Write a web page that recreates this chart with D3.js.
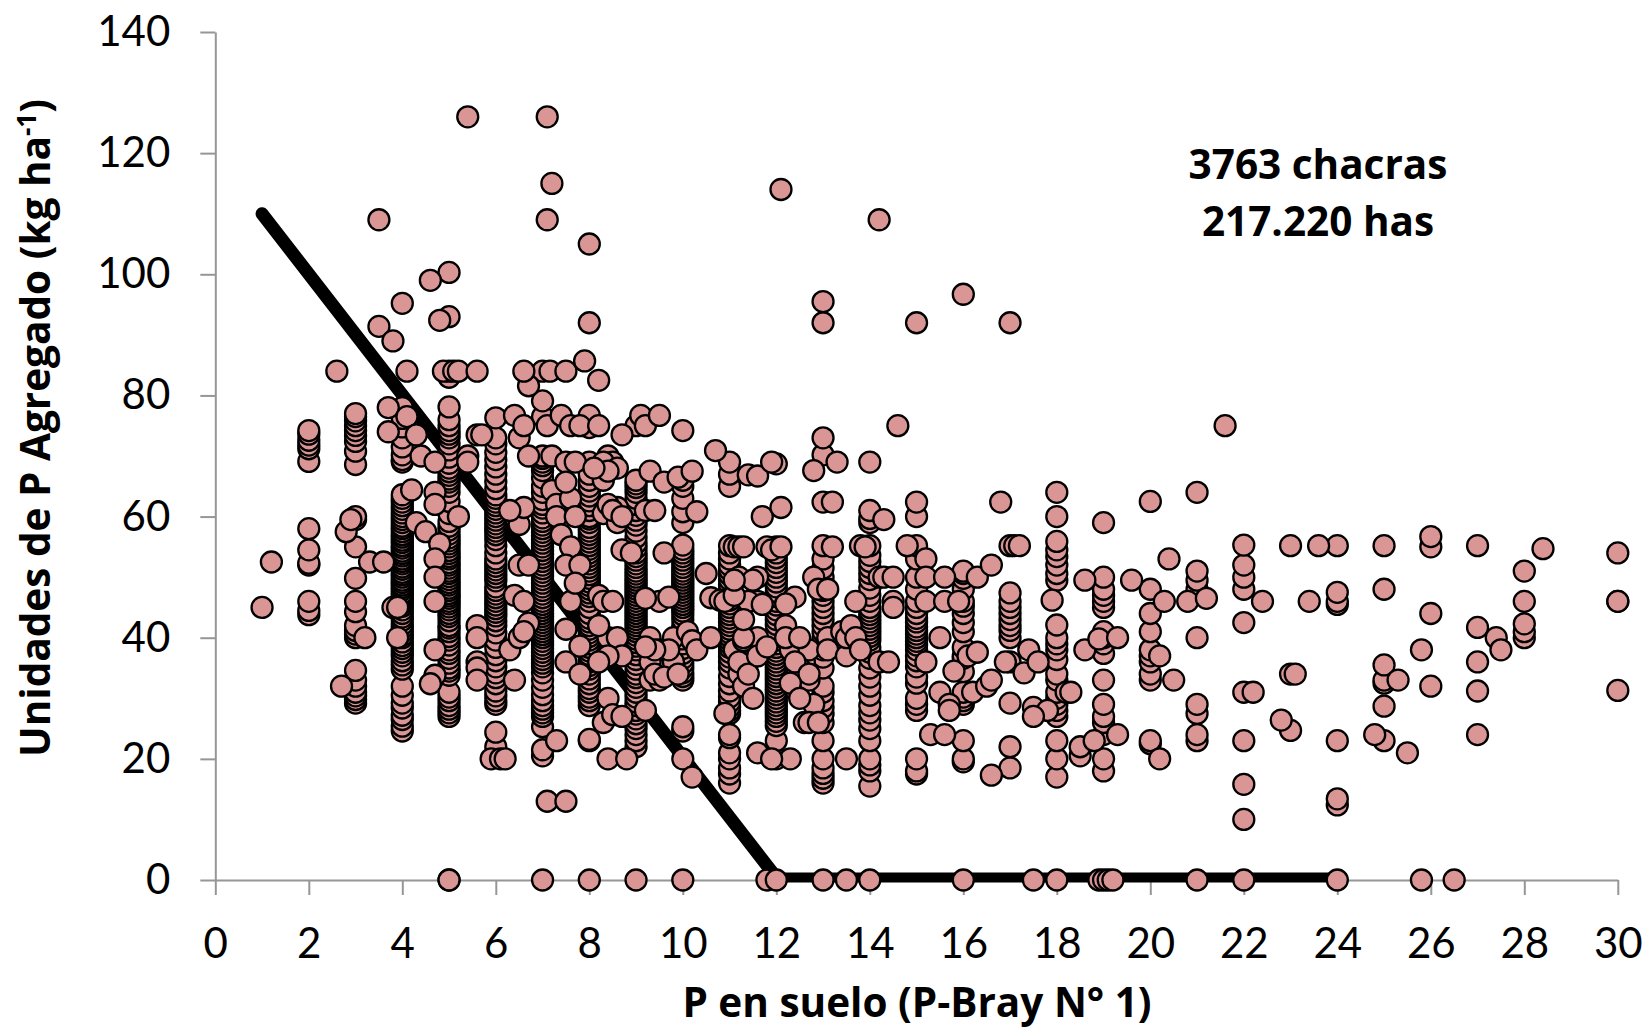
<!DOCTYPE html>
<html>
<head>
<meta charset="utf-8">
<script src="https://cdn.jsdelivr.net/npm/d3@7"></script>
<style>
body { margin: 0; background: #fff; }
text { fill: #000; }
</style>
</head>
<body>
<div id="zona"></div>
<script>
var largeur = 1647;
var hauteur = 1031;

// ticks
var ticksX = [0, 2, 4, 6, 8, 10, 12, 14, 16, 18, 20, 22, 24, 26, 28, 30];
var ticksY = [0, 20, 40, 60, 80, 100, 120, 140];

// linea de respuesta: tramo diagonal y tramo plano
var rectaX = [1, 12];
var rectaY = [110, 0.4];
var planoX = [12, 24];
var planoY = [0.4, 0.4];

// columnas de P entero (x) y sus valores (y)
var columnasX = [2, 3, 4, 5, 6, 7, 8, 9, 10, 11, 12, 13, 14, 15, 16, 17, 18, 19, 20, 21, 22, 23, 24, 25, 26, 27, 28, 30];
var col2 = [43.8, 44.5, 46, 52, 52.3, 54.5, 58, 69.1, 71.2, 71.8, 72.6, 73.6, 74.2];
var col3 = [29.2, 29.8, 30.4, 31, 32, 33, 34.6, 40, 40.6, 41.2, 42, 44.3, 46, 49.8, 55, 59.5, 60, 68.6, 70.8, 72.4, 73.4, 74.2, 75, 75.8, 76.5, 77];
var col4 = [24.6, 25.4, 26.5, 27.2, 28.4, 29.2, 30.5, 32, 34.8, 35.5, 36.2, 37, 37.6, 38.2, 38.7, 39.3, 40, 40.4, 41, 41.6, 42.2, 42.9, 43.4, 44, 44.6, 45.2, 45.7, 46.2, 46.6, 47, 47.4, 47.9, 48.3, 48.7, 49.1, 49.5, 50, 50.4, 50.8, 51.3, 51.7, 52.2, 52.6, 53, 53.5, 53.9, 54.3, 54.8, 55.2, 55.7, 56.1, 56.6, 57, 57.5, 58, 58.4, 59, 59.5, 60, 60.6, 61.2, 61.8, 62.4, 63, 63.6, 69, 69.4, 70.2, 71.5, 73, 74.8, 76.2, 78, 95.2];
var col5 = [27, 27.6, 28.2, 28.8, 29.6, 30.2, 31, 33.8, 34.5, 35, 35.8, 36.6, 37.4, 38, 38.8, 39.6, 40.2, 41, 41.6, 42, 42.8, 43.5, 44, 44.6, 45.1, 45.6, 46, 46.5, 46.9, 47.3, 47.8, 48.2, 48.7, 49.1, 49.6, 50.1, 50.6, 51, 51.5, 52, 52.4, 53, 53.4, 53.9, 54.4, 55, 55.5, 56, 56.5, 57.1, 57.8, 58.4, 59.2, 60.5, 62.5, 64, 65, 65.7, 66.2, 66.8, 67.4, 68, 68.8, 69.8, 71, 72, 73, 73.6, 74.2, 75, 76, 78.1, 83, 84, 93, 100.3];
var col6 = [20.4, 22, 24.4, 29, 29.6, 30.4, 31.2, 32.4, 33.4, 34.2, 35.2, 36.2, 37.2, 38.4, 39.6, 40.8, 42, 42.8, 43.6, 44.2, 44.8, 45.4, 46, 46.6, 47.2, 47.8, 48.4, 49.4, 50, 50.6, 51.2, 51.8, 52.4, 53, 54, 55.2, 56.2, 57, 57.6, 58.2, 58.8, 59.4, 60, 60.6, 61.2, 61.8, 62.4, 63, 63.6, 64.6, 65.8, 67, 68.2, 69.4, 70.6, 72, 73, 76.3];
var col7 = [20.5, 21.5, 25.3, 27, 27.6, 28.2, 28.8, 29.6, 30.6, 31.8, 33, 34.2, 35.2, 35.8, 36.4, 37, 37.6, 38.2, 38.8, 39.4, 40, 40.5, 41, 41.5, 42, 42.5, 43, 43.5, 44, 44.5, 45, 45.5, 46, 46.6, 47.2, 47.8, 48.4, 49, 49.6, 50.2, 50.8, 51.4, 52, 52.6, 53.2, 53.8, 54.4, 55, 55.6, 56.2, 56.8, 57.4, 58, 58.6, 59.2, 59.8, 60.6, 61.4, 62, 62.8, 64, 65, 66.4, 67.6, 68.4, 69, 69.6, 70, 76.5, 79.1, 84];
var col8 = [23, 23.2, 28.8, 29.6, 30.2, 31, 31.6, 32.4, 33.2, 34, 34.8, 35.4, 36, 36.6, 37.2, 37.8, 38.4, 39, 39.6, 40.2, 40.8, 41.4, 42, 42.6, 43.2, 44, 45, 46, 46.8, 47.4, 48, 48.6, 49.2, 49.8, 50.4, 51, 51.6, 52.2, 52.8, 53.4, 54, 54.6, 55.2, 55.8, 56.4, 57, 57.6, 58.2, 59, 59.6, 60, 61, 61.8, 62.6, 63.4, 64.2, 65, 66, 67, 69, 74.7, 76.7, 92, 105];
var col9 = [22, 23, 24, 25, 25.8, 26.6, 27.4, 28, 28.8, 29.4, 30.2, 31, 31.8, 32.6, 33.4, 34, 34.8, 35.6, 36.4, 37.2, 38, 38.6, 39.2, 39.8, 40.4, 41, 41.5, 42, 42.5, 43, 43.5, 44, 44.5, 45, 45.5, 46, 46.5, 47, 47.5, 48, 48.5, 49, 49.5, 50, 50.5, 51, 51.6, 52.2, 52.8, 53.4, 54, 54.8, 55.6, 56.6, 57.6, 58.6, 59.4, 60.2, 61, 62, 63, 64, 64.8, 65.4, 66, 75];
var col10 = [20, 24.6, 25.3, 33, 33.6, 34.2, 35, 35.8, 36.6, 37.4, 38.2, 39, 39.8, 40.6, 42, 43, 43.8, 44.4, 45, 45.5, 46, 46.5, 47, 47.5, 48, 48.5, 49, 49.5, 50, 50.5, 51, 51.6, 52.2, 52.8, 53.4, 54, 54.6, 55.3, 59, 60.8, 63, 65, 66, 74.2];
var col11 = [16, 17.5, 18.5, 20, 21, 23.5, 24, 27.5, 28, 28.6, 29.4, 30.2, 31.2, 32.4, 33.6, 35, 36, 36.8, 37.6, 38.4, 39, 39.6, 40.2, 40.8, 41.4, 42, 42.6, 43.2, 43.8, 44.4, 45, 45.6, 46.2, 47, 48, 48.8, 49.6, 50.4, 51.2, 52, 53, 54, 55.2, 65, 67, 69];
var col12 = [20, 23, 25.5, 26.2, 27, 27.6, 28.2, 28.8, 29.4, 30, 30.6, 31.2, 31.8, 32.4, 33, 33.6, 34.2, 34.8, 35.4, 36, 36.6, 37.2, 37.8, 38.4, 39, 39.6, 40.2, 41, 42.2, 43, 43.8, 44.6, 45.4, 46, 46.8, 47.6, 48.4, 49.2, 50, 50.8, 51.6, 52.4, 53.2, 54, 55, 68.7];
var col13 = [16, 16.8, 17.6, 18.5, 20, 23, 26, 27.4, 28.5, 29.6, 31, 32, 35, 36.8, 38, 38.6, 40, 41, 42, 43, 44, 45, 46, 47, 47.8, 49, 50, 51.5, 53, 55.2, 62.4, 70.2, 73, 92, 95.5];
var col14 = [15.5, 18, 19, 20, 23, 25, 26.4, 27.6, 28.8, 30.5, 32, 33.5, 35, 36.6, 37.6, 38.4, 39.6, 40.2, 40.8, 41.4, 42, 42.6, 43.2, 43.8, 44.4, 45, 46, 47, 48.2, 49.6, 50.6, 51.6, 52.6, 53.6, 55.2, 59, 59.7, 61, 69];
var col15 = [17.5, 18, 20, 28, 29, 30, 32.5, 33.5, 35.2, 36.2, 37, 38, 38.8, 39.4, 40, 40.6, 41.2, 41.8, 42.6, 43.2, 44, 45, 46, 48, 50, 53, 55.2, 60, 62.4, 92];
var col16 = [19.5, 20, 23, 29, 29.6, 30.2, 31, 34.4, 36.6, 37, 38.4, 41, 42.5, 44, 45.2, 46, 48, 49.8, 50.6, 51, 96.7];
var col17 = [18.5, 22, 29.2, 36, 40, 41.2, 42, 43, 44, 45, 46, 47.4, 55.2, 92];
var col18 = [17, 20, 23, 27, 28, 29, 30, 31, 33, 34, 36.4, 38, 39, 40, 42.1, 49.5, 50.6, 52, 53.4, 54.5, 55.9, 60, 64];
var col19 = [18, 20, 24, 26, 27, 29, 33, 37.4, 39, 40, 41, 45, 46, 47, 48, 50, 59];
var col20 = [22.5, 23, 33, 34, 36, 37, 38, 41, 44, 48, 62.5];
var col21 = [23, 24, 27.5, 29, 40, 48, 49.5, 51, 64];
var col22 = [10, 15.8, 23, 31, 42.5, 48, 50, 52, 55.3];
var col23 = [24.7, 34, 55.2];
var col24 = [12.4, 13.4, 23, 45.5, 46, 47.5, 55.2];
var col25 = [23, 28.7, 32.5, 33, 35.5, 48, 55.2];
var col26 = [32, 44, 55, 56.7];
var col27 = [24, 31.2, 36, 41.7, 55.2];
var col28 = [40, 41, 42.3, 46, 51];
var col30 = [31.3, 46, 46, 54];
var valoresColumnas = [col2, col3, col4, col5, col6, col7, col8, col9, col10, col11, col12, col13, col14, col15, col16, col17, col18, col19, col20, col21, col22, col23, col24, col25, col26, col27, col28, col30];

// puntos sueltos [x, y]
var sueltos = [
  [1, 45], [1.2, 52.5], [2.6, 84], [2.7, 32], [2.8, 57.5], [2.9, 59.5], [3.2, 40], [3.3, 52.5], [3.5, 91.4], [3.5, 109],
  [3.6, 52.5], [3.7, 74], [3.7, 78], [3.8, 89], [3.8, 45], [3.9, 45], [3.9, 40], [4.1, 84], [4.1, 76.5], [4.2, 64.4],
  [4.3, 73.5], [4.4, 70], [4.3, 59], [4.5, 57.5], [4.6, 99], [4.7, 33.8], [4.6, 32.4], [4.7, 38], [4.7, 69], [4.7, 64],
  [4.7, 62], [4.8, 55.5], [4.7, 53], [4.7, 50], [4.7, 46], [4.8, 92.4], [4.88, 84], [5.1, 84], [5.2, 84], [5.6, 84],
  [5.2, 60], [5.4, 126], [5.4, 70], [5.4, 69], [5.6, 73.5], [5.7, 73.5], [5.6, 42], [5.6, 40], [5.6, 36], [5.6, 35],
  [5.6, 33], [5.9, 20], [6.1, 20], [6.2, 20], [6.3, 38], [6.4, 33], [6.5, 40], [6.7, 42.4], [6.6, 41], [6.4, 60],
  [6.5, 58.7], [6.6, 61.5], [6.7, 81.6], [6.6, 84], [6.4, 76.7], [6.5, 73], [6.6, 75], [6.7, 70], [6.3, 61], [6.5, 52],
  [6.7, 52], [6.4, 47], [6.6, 46], [7.16, 84], [7.5, 84], [7.1, 75], [7.4, 76.7], [7.6, 75], [7.8, 75], [7.2, 70],
  [7.5, 69], [7.7, 69], [7.2, 64.3], [7.1, 13], [7.5, 13], [7.3, 23], [7.5, 41.4], [7.5, 36], [7.8, 38.6], [7.8, 34],
  [7.1, 126], [7.2, 115], [7.1, 109], [7.3, 62], [7.6, 63],
  [7.5, 65.7], [7.3, 60], [7.4, 57], [7.6, 55], [7.5, 52], [7.7, 60], [7.8, 52], [7.6, 46], [7.7, 49], [7.9, 85.7],
  [8.2, 82.5], [8.2, 75], [8.4, 70], [8.5, 69], [8.2, 68], [8.3, 66], [8.7, 73.5], [9.1, 76.7], [9.2, 75], [9.5, 76.7],
  [8.3, 69], [8.6, 68], [8.4, 67.5], [8.6, 61.5], [8.1, 68], [8.3, 60.5], [8.6, 59],
  [9.3, 67.5], [9.6, 65.7], [9.9, 66.5], [10.2, 67.5], [8.4, 62], [8.5, 61], [8.7, 60], [8.2, 47], [8.3, 46], [8.5, 46],
  [8.4, 40], [8.6, 40], [8.4, 30], [8.3, 26], [8.5, 27.3], [8.7, 37], [8.4, 37], [8.2, 42], [8.4, 20], [8.8, 20],
  [8.7, 27], [8.2, 36], [8.7, 54.5], [8.9, 54], [9.2, 61], [9.4, 61], [9.5, 46], [9.2, 46.5], [9.6, 54], [9.7, 46.7],
  [9.3, 40], [9.3, 33], [9.5, 33], [9.6, 36], [9.5, 38], [9.8, 40], [9.8, 36], [9.7, 38], [9.3, 36], [9.2, 28],
  [9.4, 34], [9.4, 38], [9.6, 33.5], [9.9, 34], [9.2, 38.5], [10.1, 41], [10.2, 39.5], [10.3, 38], [10.2, 17], [10.5, 50.6],
  [10.6, 46.6], [10.8, 46.2], [10.6, 40], [10.3, 60.8], [10.7, 70.9], [10.9, 27.5], [10.9, 46], [11.1, 38], [11.2, 34], [11.3, 32],
  [11.3, 39.5], [11.5, 30], [11.6, 40], [11.6, 21], [11.4, 66.9], [11.6, 66.7], [11.9, 69], [11.6, 50], [11.2, 50], [11.6, 46],
  [11.4, 46], [11.1, 55], [11.2, 55], [11.3, 55], [11.1, 47], [11.3, 40], [11.3, 36], [11.4, 36], [11.2, 36], [11.7, 60],
  [11.4, 34], [11.6, 37], [11.8, 38.5], [11.3, 43], [11.7, 45.5], [11.5, 49.5], [11.1, 49.5],
  [11.8, 55], [11.9, 54.5], [12.1, 55], [12.1, 61.5], [12.4, 46.7], [12.3, 20], [11.9, 20], [12.1, 114], [12.2, 42], [12.3, 38],
  [12.2, 40], [12.6, 26], [12.8, 29], [12.4, 31.5], [12.6, 36], [12.7, 38], [12.5, 40], [12.5, 35], [12.7, 33], [12.8, 50],
  [12.2, 45.6], [12.4, 36], [12.7, 34], [12.3, 32.5], [12.5, 30], [12.7, 26], [12.9, 48],
  [12.8, 67.6], [12.9, 26], [13.1, 48], [13.1, 40], [13.1, 38], [13.5, 37], [13.2, 55], [13.2, 62.4], [13.3, 69], [13.4, 41],
  [13.5, 40], [13.6, 42], [13.5, 20], [13.7, 46], [13.7, 40], [13.8, 38], [13.8, 55.2], [13.9, 55], [14.2, 109], [14.2, 50],
  [14.3, 50], [14.5, 50], [14.3, 59.5], [14.2, 36], [14.4, 36], [14.5, 46], [14.5, 45], [14.6, 75], [14.8, 55.2], [15.2, 53],
  [15.2, 50], [15.2, 46], [15.2, 36], [15.5, 40], [15.6, 50], [15.6, 46], [15.3, 24], [15.6, 24], [15.5, 31], [15.7, 29],
  [15.8, 34.5], [15.9, 46], [15.7, 28], [16.1, 37], [16.3, 37.6], [16.2, 31], [16.3, 50], [16.5, 32], [16.6, 33], [16.6, 17.3],
  [16.6, 52], [16.8, 62.4], [16.9, 36], [17.1, 55.2], [17.2, 55.2], [17.3, 34.2], [17.4, 38], [17.5, 28.5], [17.6, 36], [17.8, 28],
  [17.5, 27], [17.9, 46.2], [18.2, 31], [18.3, 31], [18.5, 20.5], [18.5, 22], [18.6, 49.5], [18.6, 38], [18.8, 23], [18.9, 39.8],
  [19.3, 40], [19.3, 24], [19.6, 49.5], [20.2, 37], [20.2, 20], [20.3, 46], [20.4, 53], [20.5, 33], [20.8, 46], [21.2, 46.5],
  [21.6, 75], [22.2, 31], [22.4, 46], [22.8, 26.4], [23.1, 34], [23.4, 46], [23.6, 55.2], [24.8, 24], [25.3, 33], [25.5, 21],
  [25.8, 38], [27.4, 40], [27.5, 38], [28.4, 54.7]
];

// chacras sin agregado (y = 0)
var cerosX = [5, 5, 7, 8, 9, 10, 11.8, 12, 13, 13.5, 14, 16, 17.5, 18, 18.9, 19, 19.1, 19.2, 21, 22, 24, 25.8, 26.5];

var svg = d3.select("#zona")
    .append("svg")
        .attr("width", largeur)
        .attr("height", hauteur);

// escalas
var x = d3.scaleLinear()
    .domain([0, 30])
    .range([215.3, 1617.8]);
var y = d3.scaleLinear()
    .domain([0, 140])
    .range([880, 32]);

// ejes
var xAxis = svg.append("g")
    .attr("transform", "translate(0,880)")
    .call(d3.axisBottom(x).tickValues(ticksX).tickFormat(d3.format("d")).tickSize(15).tickSizeOuter(0).tickPadding(33));
var yAxis = svg.append("g")
    .attr("transform", "translate(215.3,0)")
    .call(d3.axisLeft(y).tickValues(ticksY).tickFormat(d3.format("d")).tickSize(15).tickSizeOuter(0).tickPadding(30));

svg.selectAll(".domain, .tick line")
    .attr("stroke", "#969696")
    .attr("stroke-width", 2);
svg.selectAll(".tick text")
    .attr("font-family", "Lato, sans-serif")
    .attr("font-size", "42px")
    .attr("fill", "#000");

// recta, mas fina en el tramo plano
function tramo(xs, ys, grosor) {
    var linea = d3.line()
        .x(function (d) { return x(d); })
        .y(function (d, i) { return y(ys[i]); });
    svg.append("path")
        .datum(xs)
        .attr("d", linea)
        .attr("fill", "none")
        .attr("stroke", "#000")
        .attr("stroke-width", grosor)
        .attr("stroke-linecap", "round");
}
tramo(rectaX, rectaY, 13);
tramo(planoX, planoY, 10);

// puntos: columnas primero, de abajo hacia arriba, despues los sueltos
var puntos = [];
columnasX.forEach(function (cx, i) {
    valoresColumnas[i].forEach(function (v) { puntos.push([cx, v]); });
});
sueltos.forEach(function (p) { puntos.push(p); });
cerosX.forEach(function (cx) { puntos.push([cx, 0]); });

svg.append("g")
    .selectAll("circle")
    .data(puntos)
    .enter()
    .append("circle")
        .attr("cx", function (d) { return x(d[0]); })
        .attr("cy", function (d) { return y(d[1]); })
        .attr("r", 10.5)
        .attr("fill", "#D99694")
        .attr("stroke", "#000")
        .attr("stroke-width", 2.3);

// titulos
var fuenteTitulo = "'Open Sans', sans-serif";
svg.append("text")
    .attr("x", 917)
    .attr("y", 1017)
    .attr("text-anchor", "middle")
    .attr("font-family", fuenteTitulo)
    .attr("font-size", "40.5px")
    .attr("font-weight", 700)
    .text("P en suelo (P-Bray N° 1)");

var tituloY = svg.append("text")
    .attr("transform", "translate(50,428) rotate(-90)")
    .attr("text-anchor", "middle")
    .attr("font-family", fuenteTitulo)
    .attr("font-size", "40.5px")
    .attr("font-weight", 700);
tituloY.append("tspan").text("Unidades de P Agregado (kg ha");
tituloY.append("tspan").attr("dy", -14).attr("font-size", "26px").text("-1");
tituloY.append("tspan").attr("dy", 14).text(")");

svg.append("text")
    .attr("x", 1318)
    .attr("y", 179)
    .attr("text-anchor", "middle")
    .attr("font-family", fuenteTitulo)
    .attr("font-size", "40.5px")
    .attr("font-weight", 700)
    .text("3763 chacras");
svg.append("text")
    .attr("x", 1318)
    .attr("y", 236)
    .attr("text-anchor", "middle")
    .attr("font-family", fuenteTitulo)
    .attr("font-size", "40.5px")
    .attr("font-weight", 700)
    .text("217.220 has");
</script>
</body>
</html>
